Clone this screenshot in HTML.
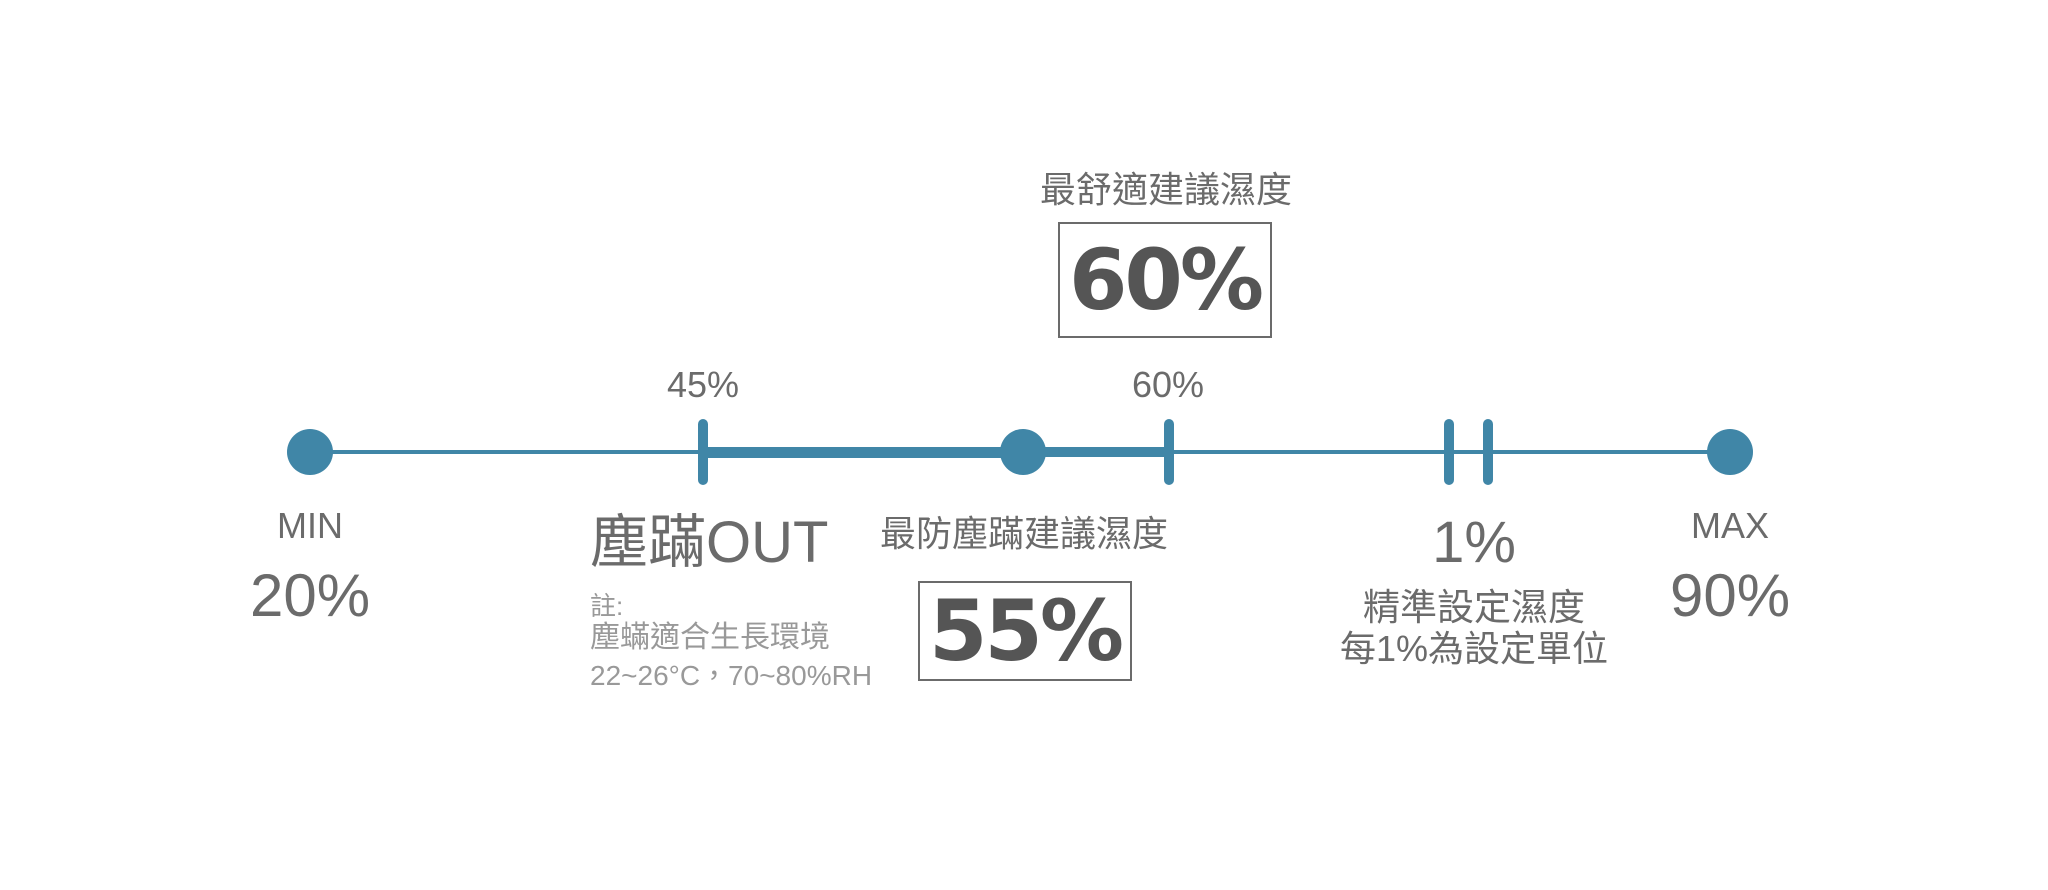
<!DOCTYPE html>
<html><head><meta charset="utf-8"><style>
body{margin:0;width:2048px;height:890px;background:#fff;position:relative;overflow:hidden;font-family:"Liberation Sans","Noto Sans CJK TC",sans-serif;color:#6b6b6b}
.a{position:absolute;white-space:nowrap;line-height:1}
.c{transform:translateX(-50%)}
.l{position:absolute;background:#4086a7}
.dot{position:absolute;width:46px;height:46px;border-radius:50%;background:#4086a7;top:429px}
.tick{position:absolute;width:10px;height:66px;border-radius:5px;background:#4086a7;top:419px}
.box{position:absolute;border:2px solid #6b6b6b;box-sizing:border-box;display:flex;align-items:center;justify-content:center;font-weight:bold;color:#555;font-family:"DejaVu Sans","Liberation Sans",sans-serif;font-size:84px;letter-spacing:-3px}
</style></head><body>
<div class="l" style="left:310px;width:1420px;top:450px;height:4px"></div>
<div class="l" style="left:703px;width:320px;top:447px;height:11px"></div>
<div class="l" style="left:1023px;width:146px;top:447px;height:10px"></div>
<div class="dot" style="left:287px"></div>
<div class="dot" style="left:1000px"></div>
<div class="dot" style="left:1707px"></div>
<div class="tick" style="left:698px"></div>
<div class="tick" style="left:1164px"></div>
<div class="tick" style="left:1444px"></div>
<div class="tick" style="left:1483px"></div>

<div class="a c" style="left:1166px;top:172px;font-size:36px">最舒適建議濕度</div>
<div class="box" style="left:1058px;top:222px;width:214px;height:116px">60%</div>
<div class="a c" style="left:703px;top:367px;font-size:36px">45%</div>
<div class="a c" style="left:1168px;top:367px;font-size:36px">60%</div>

<div class="a c" style="left:310px;top:508px;font-size:36px">MIN</div>
<div class="a c" style="left:310px;top:566px;font-size:60px">20%</div>
<div class="a" style="left:590px;top:514px;font-size:58px">塵蹣OUT</div>
<div class="a" style="left:590px;top:593px;font-size:26px;color:#999">註:</div>
<div class="a" style="left:590px;top:623px;font-size:30px;color:#999">塵蟎適合生長環境</div>
<div class="a" style="left:590px;top:662px;font-size:28px;color:#999">22~26°C，70~80%RH</div>
<div class="a c" style="left:1024px;top:516px;font-size:36px">最防塵蹣建議濕度</div>
<div class="box" style="left:918px;top:581px;width:214px;height:100px">55%</div>
<div class="a c" style="left:1474px;top:514px;font-size:58px">1%</div>
<div class="a c" style="left:1474px;top:589px;font-size:37px">精準設定濕度</div>
<div class="a c" style="left:1474px;top:631px;font-size:36px">每1%為設定單位</div>
<div class="a c" style="left:1730px;top:508px;font-size:36px">MAX</div>
<div class="a c" style="left:1730px;top:566px;font-size:60px">90%</div>
</body></html>
